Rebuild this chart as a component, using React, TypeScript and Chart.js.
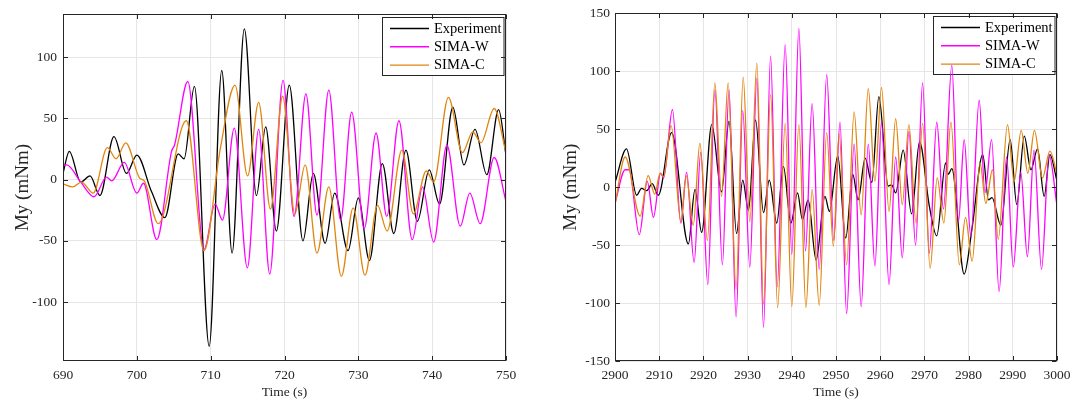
import React, { useEffect, useRef } from "react";
import { Chart, registerables } from "chart.js";

Chart.register(...registerables);

const SERIF = "'Liberation Serif', 'Times New Roman', Times, serif";

const seriesNames = ["Experiment", "SIMA-W", "SIMA-C"];
const seriesColors = ["#000000", "#ff00ff", "#e0860f"];
const xTitle = "Time (s)";
const yTitle = "My (mNm)";

// ---------- Left panel ----------
const leftXRange = [690, 750];
const leftYRange = [-148, 135];
const leftXTicks = [690, 700, 710, 720, 730, 740, 750];
const leftYTicks = [-100, -50, 0, 50, 100];

const leftExpT = [690, 690.85, 692.4, 693.66, 695.0, 696.9, 698.6, 700.0, 702.0, 703.8, 705.6, 706.4, 707.8, 709.8, 711.5, 712.9, 714.56, 716.2, 717.45, 718.9, 720.65, 722.5, 723.9, 725.5, 726.8, 728.6, 730.0, 731.5, 733.25, 734.8, 736.45, 738.0, 739.6, 741.0, 742.8, 744.3, 745.8, 747.4, 749.0, 750];
const leftExpV = [5, 23, -2, 3, -13, 35, 5, 20, -10, -31, 21, 17, 76, -136, 89, -60, 123, -13, 43, -42, 77, -50, 5, -52, -11, -58, -15, -66, 13, -44, 24, -34, 8, -20, 59, 12, 41, 4, 57, 20];

const leftWT = [690, 690.5, 692.4, 694.2, 695.9, 696.6, 698.3, 700.0, 700.9, 702.7, 704.7, 705.1, 706.9, 709.1, 710.6, 711.6, 713.2, 714.97, 716.5, 718.0, 719.8, 721.3, 722.9, 724.4, 726.0, 727.6, 729.1, 730.8, 732.4, 733.85, 735.5, 737.3, 738.7, 740.2, 742.0, 743.8, 745.1, 746.5, 748.4, 750];
const leftWV = [11, 12, -2, -14, 2, -1, 14, -11, -3, -49, 23, 28, 80, -57, -20, -33, 42, -72, 41, -77, 81, -30, 70, -29, 73, -33, 55, -40, 38, -30, 48, -49, -6, -51, 28, -38, -11, -36, 18, -18];

const leftCT = [690, 691.3, 692.5, 694.1, 696.0, 697.2, 698.5, 700.4, 701.0, 702.9, 706.7, 709.1, 711.3, 713.3, 715.0, 716.5, 718.1, 719.75, 721.4, 722.8, 724.4, 726.0, 727.7, 729.3, 730.9, 732.6, 733.9, 735.9, 737.45, 739.2, 740.2, 742.2, 744.1, 745.5, 746.6, 748.4, 750];
const leftCV = [-3.5, -6, -2, -11, 26, 17, 30, 1, -1, -36, 48, -58, 25, 77, 3, 63, -24, 68, -28, 12, -60, -6, -79, -23, -78, -21, -42, 24, -28, 7, -2, 67, 22, 39, 30, 58, 22];

// ---------- Right panel ----------
const rightXRange = [2900, 3000];
const rightYRange = [-150, 150];
const rightXTicks = [2900, 2910, 2920, 2930, 2940, 2950, 2960, 2970, 2980, 2990, 3000];
const rightYTicks = [-150, -100, -50, 0, 50, 100, 150];

const rightExpT = [2900, 2902.6, 2904.9, 2906.0, 2907.2, 2908.4, 2909.8, 2912.8, 2916.6, 2918.1, 2919.6, 2921.9, 2924.1, 2925.8, 2927.5, 2928.9, 2930.2, 2931.8, 2933.6, 2934.9, 2936.6, 2938.1, 2939.8, 2941.3, 2942.4, 2943.7, 2945.5, 2947.5, 2948.5, 2950.4, 2952.2, 2953.8, 2955.0, 2956.6, 2958.1, 2959.7, 2961.8, 2962.6, 2963.5, 2965.2, 2967.1, 2968.9, 2971.1, 2972.8, 2974.8, 2975.4, 2976.2, 2979.0, 2980.8, 2983.2, 2984.5, 2985.3, 2987.3, 2989.4, 2990.9, 2992.6, 2994.1, 2995.6, 2997.1, 2998.4, 3000];
const rightExpV = [4, 33, -7, -1, -3, 3, -7, 47, -49, -2, -39, 54, -4, 57, -40, 6, -20, 58, -22, 6, -31, 18, -31, -5, -28, -11, -63, -8, -21, 27, -44, 11, -11, 25, 4, 78, 1, 2, -5, 32, -23, 39, -16, -42, 21, 11, 16, -75, -35, 28, -11, -9, -33, 41, -15, 44, 15, 33, -8, 28, 5];

const rightWT = [2900, 2902.3, 2903.2, 2905.5, 2907.3, 2908.7, 2910.3, 2911.0, 2913.0, 2914.9, 2916.2, 2917.9, 2919.4, 2921.0, 2922.6, 2924.3, 2925.8, 2927.4, 2928.9, 2930.5, 2932.1, 2933.6, 2935.2, 2936.7, 2938.5, 2940.0, 2941.6, 2943.1, 2944.6, 2946.2, 2947.9, 2949.5, 2950.9, 2952.4, 2954.1, 2955.7, 2957.3, 2958.8, 2960.3, 2962.0, 2963.5, 2965.0, 2966.5, 2968.0, 2969.6, 2971.1, 2972.8, 2974.3, 2976.2, 2977.7, 2979.0, 2980.5, 2982.4, 2983.7, 2985.2, 2986.9, 2988.6, 2990.1, 2991.8, 2993.3, 2994.8, 2996.5, 2998.2, 3000];
const rightWV = [-14, 15, 15, -41, 5, -26, 12, 8, 67, -31, 13, -65, 30, -84, 84, -67, 84, -112, 66, -69, 94, -121, 113, -86, 123, -58, 137, -55, 72, -71, 97, -46, 56, -109, 37, -103, 37, -68, 56, -84, 26, -61, 48, -50, 90, -57, 56, -19, 105, -30, 41, -43, 75, -5, 41, -90, 26, -69, 13, -60, 32, -71, 28, -16];

const rightCT = [2900, 2902.3, 2905.7, 2907.5, 2909.0, 2910.2, 2911.0, 2912.7, 2914.9, 2916.1, 2917.7, 2919.2, 2920.9, 2922.6, 2924.1, 2925.6, 2927.4, 2929.0, 2930.5, 2932.1, 2933.6, 2935.2, 2936.8, 2938.5, 2940.0, 2941.6, 2943.2, 2944.6, 2946.2, 2947.9, 2949.4, 2950.7, 2952.4, 2954.1, 2955.7, 2957.3, 2958.8, 2960.3, 2962.0, 2963.5, 2965.0, 2966.5, 2968.1, 2969.6, 2971.3, 2972.9, 2974.4, 2976.0, 2977.9, 2979.3, 2980.8, 2982.6, 2983.9, 2985.4, 2986.7, 2988.8, 2990.3, 2991.9, 2993.4, 2994.9, 2996.7, 2998.4, 3000];
const rightCV = [-15, 26, -25, 10, -6, 12, 9, 53, -30, 10, -33, 38, -46, 90, -8, 90, -88, 95, -30, 107, -101, 80, -104, 55, -103, 54, -104, -2, -102, 47, -51, 46, -67, 65, -24, 85, 5, 86, -21, 59, -15, 54, -31, 55, -70, 8, -31, 56, -67, -26, -64, 21, -14, 15, -45, 54, 5, 49, 12, 49, 8, 31, 11];

type PanelDef = {
  width: number;
  xRange: number[];
  yRange: number[];
  xTicks: number[];
  yTicks: number[];
  series: { t: number[]; v: number[] }[];
  padRight: number;
  padTop: number;
  yAxisWidth: number;
  yTitlePad: number;
  yTickPad: number;
};

const AXIS_COLOR = "#262626";
const GRID_COLOR = "#e6e6e6";

const frameLegendPlugin = {
  id: "frameLegend",
  beforeDatasetsDraw(chart: any) {
    const { ctx, chartArea } = chart;
    const w = 121.5;
    const h = 58;
    const x0 = Math.round(chartArea.right - 3 - w) + 0.5;
    const y0 = Math.round(chartArea.top + 2.5) + 0.5;
    ctx.save();
    ctx.fillStyle = "#ffffff";
    ctx.fillRect(x0, y0, w, h);
    ctx.strokeStyle = AXIS_COLOR;
    ctx.lineWidth = 1;
    ctx.strokeRect(x0, y0, w, h);
    chart.data.datasets.forEach((ds: any, i: number) => {
      const y = y0 + 11 + i * 18.3;
      ctx.beginPath();
      ctx.strokeStyle = ds.borderColor;
      ctx.lineWidth = 1.4;
      ctx.moveTo(x0 + 7.5, y);
      ctx.lineTo(x0 + 46.5, y);
      ctx.stroke();
      ctx.fillStyle = "#000000";
      ctx.font = `14.5px ${SERIF}`;
      ctx.textBaseline = "middle";
      ctx.textAlign = "left";
      ctx.fillText(ds.label, x0 + 51.5, y + 0.5);
    });
    ctx.restore();
  },
  afterDatasetsDraw(chart: any) {
    const { ctx, chartArea, scales } = chart;
    const { left, right, top, bottom } = chartArea;
    ctx.save();
    ctx.strokeStyle = AXIS_COLOR;
    ctx.lineWidth = 1;
    const L = Math.round(left) + 0.5;
    const R = Math.round(right) - 0.5;
    const T = Math.round(top) + 0.5;
    const B = Math.round(bottom) - 0.5;
    ctx.strokeRect(L, T, R - L, B - T);
    const tl = 4.5;
    ctx.beginPath();
    scales.x.ticks.forEach((tk: any) => {
      const px = Math.round(scales.x.getPixelForValue(tk.value)) + 0.5;
      ctx.moveTo(px, B);
      ctx.lineTo(px, B - tl);
      ctx.moveTo(px, T);
      ctx.lineTo(px, T + tl);
    });
    scales.y.ticks.forEach((tk: any) => {
      const py = Math.round(scales.y.getPixelForValue(tk.value)) + 0.5;
      ctx.moveTo(L, py);
      ctx.lineTo(L + tl, py);
      ctx.moveTo(R, py);
      ctx.lineTo(R - tl, py);
    });
    ctx.stroke();
    ctx.restore();
  },
};

function Panel({ def }: { def: PanelDef }) {
  const ref = useRef<HTMLCanvasElement | null>(null);
  useEffect(() => {
    if (!ref.current) return;
    const datasets = def.series.map((s, i) => ({
      label: seriesNames[i],
      data: s.t.map((x, j) => ({ x, y: s.v[j] })),
      borderColor: seriesColors[i],
      backgroundColor: seriesColors[i],
      borderWidth: 1.3,
      pointRadius: 0,
      fill: false,
      cubicInterpolationMode: "monotone" as const,
      order: 3 - i,
    }));
    const tickFont = { family: SERIF, size: 13.5 };
    const chart = new Chart(ref.current, {
      type: "line",
      data: { datasets },
      plugins: [frameLegendPlugin],
      options: {
        responsive: false,
        animation: false,
        events: [],
        layout: { padding: { left: 0, right: def.padRight, top: def.padTop, bottom: 0 } },
        plugins: { legend: { display: false }, tooltip: { enabled: false } },
        scales: {
          x: {
            type: "linear",
            min: def.xRange[0],
            max: def.xRange[1],
            afterBuildTicks: (s: any) => {
              s.ticks = def.xTicks.map((value) => ({ value }));
            },
            afterFit: (s: any) => {
              s.height = 42;
            },
            grid: { color: GRID_COLOR, drawTicks: false, lineWidth: 1 },
            border: { display: false },
            ticks: {
              font: tickFont,
              color: AXIS_COLOR,
              padding: 6,
              maxRotation: 0,
              autoSkip: false,
              callback: (v: any) => String(v),
            },
            title: {
              display: true,
              text: xTitle,
              font: { family: SERIF, size: 13.5 },
              color: AXIS_COLOR,
              padding: { top: 0, bottom: 2 },
            },
          },
          y: {
            type: "linear",
            min: def.yRange[0],
            max: def.yRange[1],
            afterBuildTicks: (s: any) => {
              s.ticks = def.yTicks.map((value) => ({ value }));
            },
            afterFit: (s: any) => {
              s.width = def.yAxisWidth;
            },
            grid: { color: GRID_COLOR, drawTicks: false, lineWidth: 1 },
            border: { display: false },
            ticks: {
              font: tickFont,
              color: AXIS_COLOR,
              padding: def.yTickPad,
              autoSkip: false,
              callback: (v: any) => String(v),
            },
            title: {
              display: true,
              text: yTitle,
              font: { family: SERIF, size: 19 },
              color: AXIS_COLOR,
              padding: { top: def.yTitlePad, bottom: 0 },
            },
          },
        },
      } as any,
    });
    return () => chart.destroy();
  }, [def]);
  return <canvas ref={ref} width={def.width} height={403} style={{ display: "block", width: def.width, height: 403 }} />;
}

const leftDef: PanelDef = {
  width: 540,
  xRange: leftXRange,
  yRange: leftYRange,
  xTicks: leftXTicks,
  yTicks: leftYTicks,
  series: [
    { t: leftExpT, v: leftExpV },
    { t: leftWT, v: leftWV },
    { t: leftCT, v: leftCV },
  ],
  padRight: 34,
  padTop: 10.7,
  yAxisWidth: 63,
  yTitlePad: 11.6,
  yTickPad: 6,
};

const rightDef: PanelDef = {
  width: 537,
  xRange: rightXRange,
  yRange: rightYRange,
  xTicks: rightXTicks,
  yTicks: rightYTicks,
  series: [
    { t: rightExpT, v: rightExpV },
    { t: rightWT, v: rightWV },
    { t: rightCT, v: rightCV },
  ],
  padRight: 20,
  padTop: 13.3,
  yAxisWidth: 75,
  yTitlePad: 20,
  yTickPad: 5,
};

export default function App() {
  return (
    <div style={{ position: "fixed", left: 0, top: 0, width: 1077, height: 403, background: "#ffffff" }}>
      <div style={{ position: "absolute", left: 0, top: 0 }}>
        <Panel def={leftDef} />
      </div>
      <div style={{ position: "absolute", left: 540, top: 0 }}>
        <Panel def={rightDef} />
      </div>
    </div>
  );
}
